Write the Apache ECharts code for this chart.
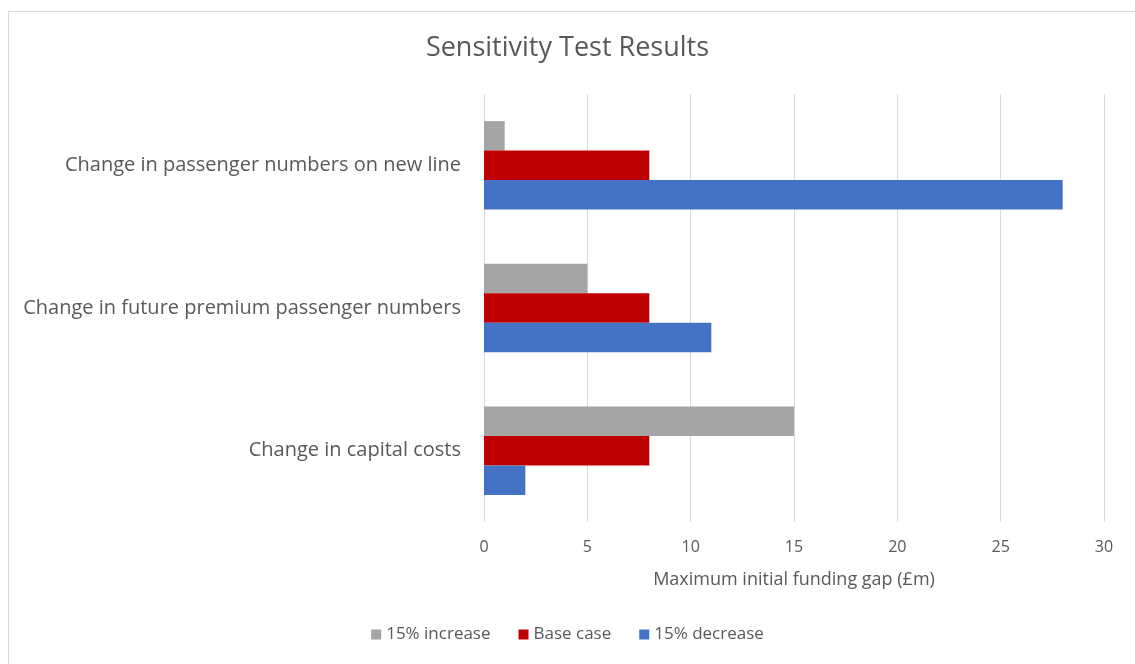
<!DOCTYPE html>
<html>
<head>
<meta charset="utf-8">
<script src="https://cdn.jsdelivr.net/npm/echarts@6/dist/echarts.min.js"></script>
<style>
  html, body { margin: 0; padding: 0; background: #fff; overflow: hidden; }
  #frame { position: absolute; left: 8px; top: 11px; width: 1140px; height: 670px; border: 1px solid #d9d9d9; border-width: 1px 0 0 1px; }
  #chart { position: absolute; left: 0; top: 0; width: 1135px; height: 664px; }
</style>
</head>
<body>
<div id="frame"></div>
<div id="chart"></div>
<script>
// categories, bottom to top as the y axis runs
var categories = ['Change in capital costs', 'Change in future premium passenger numbers', 'Change in passenger numbers on new line'];
var increase15 = [15, 5, 1];
var baseCase = [8, 8, 8];
var decrease15 = [2, 11, 28];
var xTicks = [0, 5, 10, 15, 20, 25, 30];

var chart = echarts.init(document.getElementById('chart'));

var font = '"Open Sans", "Liberation Sans", sans-serif';

var option = {
    backgroundColor: 'transparent',
    animation: false,
    title: {
        text: 'Sensitivity Test Results',
        left: 'center',
        top: 30,
        textStyle: {
            fontFamily: font,
            fontSize: 27,
            fontWeight: 'normal',
            color: '#595959'
        }
    },
    legend: {
        data: ['15% increase', 'Base case', '15% decrease'],
        bottom: 16,
        left: 'center',
        itemWidth: 10,
        itemHeight: 10,
        itemGap: 28,
        icon: 'rect',
        textStyle: {
            fontFamily: font,
            fontSize: 17,
            color: '#595959'
        }
    },
    grid: {
        left: 484,
        right: 31,
        top: 94,
        bottom: 142,
        containLabel: false
    },
    xAxis: {
        type: 'value',
        min: xTicks[0],
        max: xTicks[xTicks.length - 1],
        interval: 5,
        name: 'Maximum initial funding gap (£m)',
        nameLocation: 'middle',
        nameGap: 49,
        nameTextStyle: {
            fontFamily: font,
            fontSize: 18,
            color: '#595959'
        },
        axisLine: { show: false },
        axisTick: { show: false },
        axisLabel: {
            margin: 17,
            fontFamily: font,
            fontSize: 16,
            color: '#595959'
        },
        splitLine: {
            show: true,
            lineStyle: { color: '#d9d9d9', width: 1 }
        }
    },
    yAxis: {
        type: 'category',
        data: categories,
        axisLine: { show: false },
        axisTick: { show: false },
        axisLabel: {
            margin: 23,
            fontFamily: font,
            fontSize: 20,
            color: '#595959'
        },
        splitLine: { show: false }
    },
    series: [
        {
            name: '15% increase',
            type: 'bar',
            data: increase15,
            barGap: '0%',
            barCategoryGap: '38%',
            itemStyle: { color: '#A5A5A5' }
        },
        {
            name: 'Base case',
            type: 'bar',
            data: baseCase,
            barGap: '0%',
            barCategoryGap: '38%',
            itemStyle: { color: '#C00000' }
        },
        {
            name: '15% decrease',
            type: 'bar',
            data: decrease15,
            barGap: '0%',
            barCategoryGap: '38%',
            itemStyle: { color: '#4472C4' }
        }
    ]
};

chart.setOption(option);
</script>
</body>
</html>
